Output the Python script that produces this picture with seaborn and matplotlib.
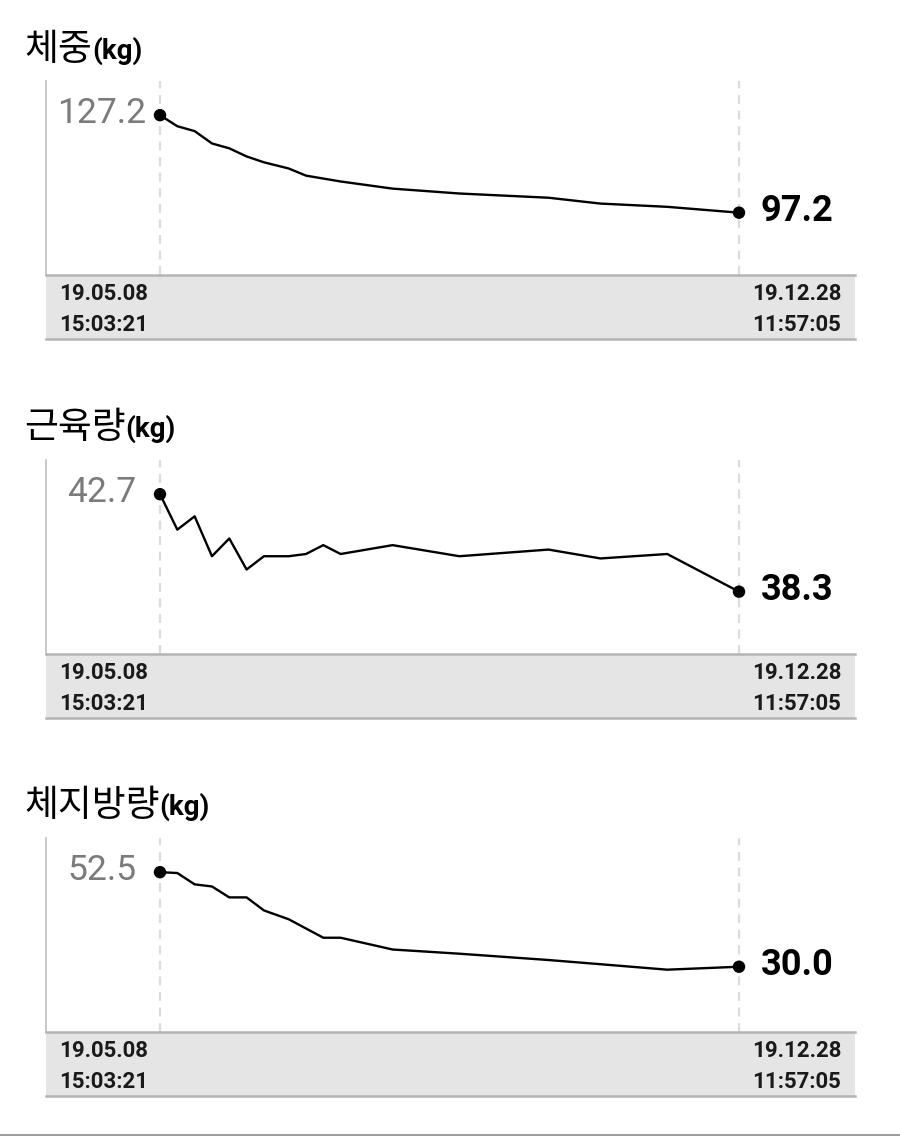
import numpy as np
import pandas as pd
import matplotlib
matplotlib.use("Agg")
import matplotlib.pyplot as plt
from matplotlib.text import Annotation
import seaborn as sns

# ---------------- data ----------------
days = [0, 7, 14, 21, 28, 35, 42, 52, 59, 66, 73, 94, 121, 157, 178, 205, 234]
weight = [127.2, 123.8, 122.3, 118.5, 117.0, 114.5, 112.7, 110.8, 108.6, 107.7,
          106.8, 104.6, 103.1, 101.8, 100.0, 99.0, 97.2]
muscle = [42.7, 41.1, 41.7, 39.9, 40.7, 39.3, 39.9, 39.9, 40.0, 40.4,
          40.0, 40.4, 39.9, 40.2, 39.8, 40.0, 38.3]
fat = [52.5, 52.3, 49.6, 49.1, 46.5, 46.5, 43.4, 41.3, 39.1, 36.9,
       36.9, 34.1, 33.1, 31.6, 30.6, 29.3, 30.0]
titles = ["체중", "근육량", "체지방량"]
unit = "(kg)"
start_labels = ["19.05.08", "15:03:21"]
end_labels = ["19.12.28", "11:57:05"]
series = [weight, muscle, fat]

# ---------------- style ----------------
sns.set_style("white")
plt.rcParams["font.family"] = ["Roboto", "Noto Sans CJK KR", "DejaVu Sans"]

W, H = 900, 1137
fig = plt.figure(figsize=(W / 100, H / 100), dpi=100)
fig.patch.set_facecolor("white")

panel_tops = [81, 460, 838]
title_base = [60, 438, 816]
plot_h, band_h = 194, 64
left_px, right_px = 46, 855
x0_px, x1_px = 160, 739

for i, (title, vals) in enumerate(zip(titles, series)):
    T = panel_tops[i]
    B = T + plot_h
    E = B + band_h
    ax = fig.add_axes([left_px / W, 1 - B / H, (right_px - left_px) / W, plot_h / H])
    df = pd.DataFrame({"day": days, "value": vals})

    # dashed guide lines at first / last measurement
    for d in (days[0], days[-1]):
        ax.axvline(d, color="#dcdcdc", lw=1.6, ls=(0, (4, 3)), zorder=0)

    sns.lineplot(data=df, x="day", y="value", ax=ax, color="black", lw=1.7,
                 zorder=3)
    ends = df.iloc[[0, -1]]
    sns.scatterplot(data=ends, x="day", y="value", ax=ax, color="black", s=80,
                    edgecolor="none", zorder=5)

    scale = (days[-1] - days[0]) / (x1_px - x0_px)
    ax.set_xlim(days[0] - (x0_px - left_px) * scale,
                days[-1] + (right_px - x1_px) * scale)
    vmin, vmax = min(vals), max(vals)
    rng = vmax - vmin
    ax.set_ylim(vmin - rng * 62 / 97, vmax + rng * 34 / 97)

    ax.set_xticks([])
    ax.set_yticks([])
    ax.set_xlabel("")
    ax.set_ylabel("")
    for s in ("top", "right", "bottom"):
        ax.spines[s].set_visible(False)
    ax.spines["left"].set_color("#c4c4c4")
    ax.spines["left"].set_linewidth(1.3)

    ax.annotate(f"{vals[0]:.1f}", xy=(days[0], vals[0]), xytext=(-58, -7.5),
                textcoords="offset pixels", ha="center", va="baseline",
                fontsize=25.5, color="#7b7b7b", annotation_clip=False)
    ax.annotate(f"{vals[-1]:.1f}", xy=(days[-1], vals[-1]), xytext=(22, -8.5),
                textcoords="offset pixels", ha="left", va="baseline",
                fontsize=26, fontweight="bold", color="black",
                annotation_clip=False)

    # date band
    bx = fig.add_axes([left_px / W, 1 - E / H, (right_px - left_px) / W, band_h / H])
    bx.set_facecolor("#e5e5e5")
    bx.set_xticks([])
    bx.set_yticks([])
    for s in ("left", "right"):
        bx.spines[s].set_visible(False)
    for s in ("top", "bottom"):
        bx.spines[s].set_color("#b4b4b4")
        bx.spines[s].set_linewidth(1.8)
    lx = (59 - left_px) / (right_px - left_px)
    rx = (841 - left_px) / (right_px - left_px)
    for txt, yy in zip(start_labels, (0.70, 0.22)):
        bx.text(lx, yy, txt, transform=bx.transAxes, ha="left", va="center",
                fontsize=16, fontweight="bold", color="#1a1a1a")
    for txt, yy in zip(end_labels, (0.70, 0.22)):
        bx.text(rx, yy, txt, transform=bx.transAxes, ha="right", va="center",
                fontsize=16, fontweight="bold", color="#1a1a1a")

    # title
    t = fig.text(24 / W, 1 - title_base[i] / H, title, fontsize=26.5,
                 family=["Noto Sans CJK KR", "DejaVu Sans"], va="baseline",
                 color="black")
    u = Annotation(unit, xy=(1, H - title_base[i] + 1),
                   xycoords=(t, "figure pixels"), xytext=(0, 0),
                   textcoords="offset pixels", ha="left", va="baseline",
                   fontsize=20, fontweight="bold", color="black",
                   family=["Roboto", "DejaVu Sans"])
    fig.add_artist(u)

# bottom separator line
fig.add_artist(plt.Line2D([0, 1], [1 - 1135 / H, 1 - 1135 / H],
                          transform=fig.transFigure, color="#8a8a8a", lw=1.2))

fig.savefig("out.png", dpi=100, facecolor="white")
